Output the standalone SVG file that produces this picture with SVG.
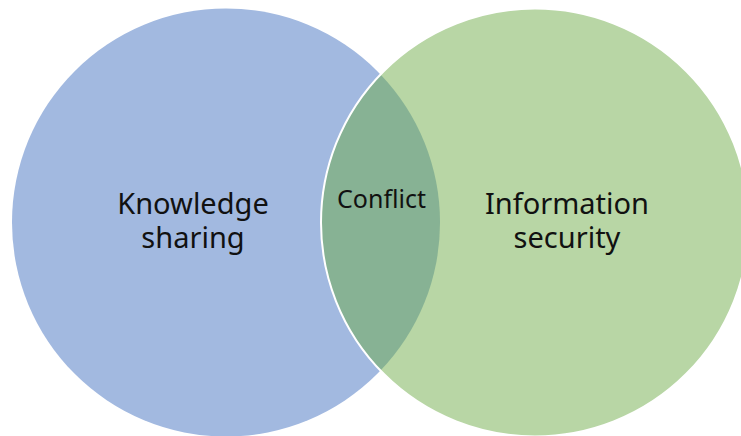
<svg xmlns="http://www.w3.org/2000/svg" width="741" height="436" viewBox="0 0 741 436">
  <style>
    .label { font-family: "Noto Sans", "Open Sans", "Liberation Sans", sans-serif; fill: #111111; text-anchor: middle; }
    .big { font-size: 29px; }
    .small { font-size: 25px; }
  </style>
  <rect width="741" height="436" fill="#ffffff"/>
  <g id="knowledge-sharing">
    <circle cx="226" cy="222.5" r="214" fill="#A2B9E0"/>
  </g>
  <g id="information-security">
    <circle cx="535" cy="222.5" r="214" fill="#B8D6A5"/>
  </g>
  <g id="conflict">
    <!-- overlap lens: left arc belongs to the right circle, right arc to the left circle -->
    <path d="M380.5,74.4 A214,214 0 0 0 380.5,370.6 A214,214 0 0 0 380.5,74.4 Z" fill="#87B294"/>
    <!-- white outline of the right circle, visible along the lens edge -->
    <circle cx="535" cy="222.5" r="214" fill="none" stroke="#ffffff" stroke-width="2"/>
    <text class="label small" x="381.5" y="208">Conflict</text>
  </g>
  <g id="labels">
    <text class="label big" x="193" y="214">Knowledge<tspan x="193" dy="34">sharing</tspan></text>
    <text class="label big" x="567" y="214">Information<tspan x="567" dy="34">security</tspan></text>
  </g>
</svg>
